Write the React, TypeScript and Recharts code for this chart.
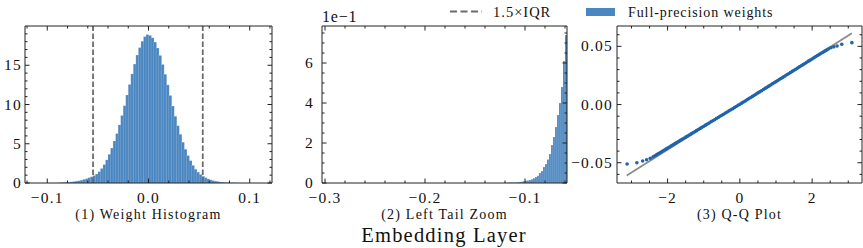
import React from 'react';
import { ComposedChart, Bar, Scatter, Line, XAxis, YAxis, ReferenceLine } from 'recharts';

const FONT = "'Liberation Serif', 'Times New Roman', serif";
const INK = '#222222';
const BAR = '#4a86c1';
const DASH = '#6b6b6b';
const DOT = '#1f63ad';
const FIT = '#8a8a8a';

// (1) weight histogram: bin centres (width 0.0025) and densities
const histBins = [
  -0.08875, -0.08625, -0.08375, -0.08125, -0.07875, -0.07625, -0.07375, -0.07125, -0.06875, -0.06625,
  -0.06375, -0.06125, -0.05875, -0.05625, -0.05375, -0.05125, -0.04875, -0.04625, -0.04375, -0.04125,
  -0.03875, -0.03625, -0.03375, -0.03125, -0.02875, -0.02625, -0.02375, -0.02125, -0.01875, -0.01625,
  -0.01375, -0.01125, -0.00875, -0.00625, -0.00375, -0.00125, 0.00125, 0.00375, 0.00625, 0.00875,
  0.01125, 0.01375, 0.01625, 0.01875, 0.02125, 0.02375, 0.02625, 0.02875, 0.03125, 0.03375,
  0.03625, 0.03875, 0.04125, 0.04375, 0.04625, 0.04875, 0.05125, 0.05375, 0.05625, 0.05875,
  0.06125, 0.06375, 0.06625, 0.06875, 0.07125, 0.07375, 0.07625, 0.07875, 0.08125, 0.08375,
  0.08625, 0.08875,
];
const histDensity = [
  0.03, 0.05, 0.07, 0.09, 0.11, 0.14, 0.19, 0.24, 0.29, 0.36,
  0.46, 0.55, 0.68, 0.8, 0.95, 1.15, 1.45, 1.85, 2.35, 2.95,
  3.65, 4.45, 5.35, 6.3, 7.4, 8.6, 9.85, 11.2, 12.55, 13.9,
  15.15, 16.3, 17.25, 18.05, 18.65, 18.9, 18.8, 18.5, 17.95, 17.2,
  16.25, 15.1, 13.85, 12.5, 11.15, 9.8, 8.5, 7.3, 6.2, 5.2,
  4.3, 3.5, 2.85, 2.25, 1.75, 1.38, 1.08, 0.86, 0.68, 0.52,
  0.4, 0.31, 0.24, 0.18, 0.13, 0.1, 0.07, 0.05, 0.04, 0.03,
  0.02, 0.01,
];
const iqrBounds = [-0.0548, 0.0536];

// (2) left tail: bin centres (width 0.002) and densities
const tailBins = [
  -0.119, -0.117, -0.115, -0.113, -0.111, -0.109, -0.107, -0.105, -0.103, -0.101,
  -0.099, -0.097, -0.095, -0.093, -0.091, -0.089, -0.087, -0.085, -0.083, -0.081,
  -0.079, -0.077, -0.075, -0.073, -0.071, -0.069, -0.067, -0.065, -0.063, -0.061,
  -0.059,
];
const tailDensity = [
  0.001, 0.001, 0.002, 0.002, 0.003, 0.003, 0.004, 0.005, 0.006, 0.009,
  0.011, 0.013, 0.015, 0.019, 0.024, 0.03, 0.036, 0.05, 0.06, 0.08,
  0.095, 0.118, 0.145, 0.19, 0.23, 0.28, 0.34, 0.4, 0.48, 0.61,
  0.74,
];

// (3) Q-Q plot: theoretical quantiles vs ordered weights
const qqTheoretical = [
  -3.12, -2.85, -2.69, -2.58, -2.48,
  -2.4, -2.35, -2.3, -2.25, -2.2, -2.15, -2.1, -2.05, -2.0, -1.95,
  -1.9, -1.85, -1.8, -1.75, -1.7, -1.65, -1.6, -1.55, -1.5, -1.45,
  -1.4, -1.35, -1.3, -1.25, -1.2, -1.15, -1.1, -1.05, -1.0, -0.95,
  -0.9, -0.85, -0.8, -0.75, -0.7, -0.65, -0.6, -0.55, -0.5, -0.45,
  -0.4, -0.35, -0.3, -0.25, -0.2, -0.15, -0.1, -0.05, 0.0, 0.05,
  0.1, 0.15, 0.2, 0.25, 0.3, 0.35, 0.4, 0.45, 0.5, 0.55,
  0.6, 0.65, 0.7, 0.75, 0.8, 0.85, 0.9, 0.95, 1.0, 1.05,
  1.1, 1.15, 1.2, 1.25, 1.3, 1.35, 1.4, 1.45, 1.5, 1.55,
  1.6, 1.65, 1.7, 1.75, 1.8, 1.85, 1.9, 1.95, 2.0, 2.05,
  2.1, 2.15, 2.2, 2.25, 2.3, 2.35, 2.4, 2.45, 2.52,
  2.6, 2.69, 2.82, 3.1,
];
const qqSample = [
  -0.0511, -0.05, -0.0485, -0.0474, -0.0462,
  -0.0449, -0.044, -0.043, -0.0421, -0.0412, -0.0402, -0.0393, -0.0383, -0.0374, -0.0365,
  -0.0355, -0.0346, -0.0336, -0.0327, -0.0318, -0.0308, -0.0299, -0.0289, -0.028, -0.0271,
  -0.0261, -0.0252, -0.0242, -0.0233, -0.0224, -0.0214, -0.0205, -0.0195, -0.0186, -0.0177,
  -0.0167, -0.0158, -0.0148, -0.0139, -0.013, -0.012, -0.0111, -0.0101, -0.0092, -0.0083,
  -0.0073, -0.0064, -0.0054, -0.0045, -0.0036, -0.0026, -0.0017, -0.0007, 0.0002, 0.0012,
  0.0022, 0.0031, 0.0041, 0.0051, 0.0061, 0.007, 0.008, 0.009, 0.01, 0.0109,
  0.0119, 0.0129, 0.0139, 0.0148, 0.0158, 0.0168, 0.0178, 0.0187, 0.0197, 0.0207,
  0.0217, 0.0226, 0.0236, 0.0246, 0.0256, 0.0265, 0.0275, 0.0285, 0.0295, 0.0304,
  0.0314, 0.0324, 0.0334, 0.0343, 0.0353, 0.0363, 0.0373, 0.0382, 0.0392, 0.0402,
  0.0412, 0.0421, 0.0431, 0.0441, 0.045, 0.0459, 0.0468, 0.0477, 0.0488,
  0.0496, 0.0503, 0.0518, 0.0532,
];
const fitX = [-3.13, 3.1];
const fitY = [-0.0609, 0.0612];

// ticks (all tick positions, majors get labels)
const h1XTicks = [-0.12, -0.1, -0.08, -0.06, -0.04, -0.02, 0, 0.02, 0.04, 0.06, 0.08, 0.1, 0.12];
const h1XMajor = [-0.1, 0, 0.1];
const h1YTicks = [0, 1, 2, 3, 4, 5, 6, 7, 8, 9, 10, 11, 12, 13, 14, 15, 16, 17, 18, 19];
const h1YMajor = [0, 5, 10, 15];
const h2XTicks = [-0.3, -0.28, -0.26, -0.24, -0.22, -0.2, -0.18, -0.16, -0.14, -0.12, -0.1, -0.08, -0.06];
const h2XMajor = [-0.3, -0.2, -0.1];
const h2YTicks = [0, 0.05, 0.1, 0.15, 0.2, 0.25, 0.3, 0.35, 0.4, 0.45, 0.5, 0.55, 0.6, 0.65, 0.7, 0.75];
const h2YMajor = [0, 0.2, 0.4, 0.6];
const qqXTicks = [-3, -2.5, -2, -1.5, -1, -0.5, 0, 0.5, 1, 1.5, 2, 2.5, 3];
const qqXMajor = [-2, 0, 2];
const qqYTicks = [-0.06, -0.05, -0.04, -0.03, -0.02, -0.01, 0, 0.01, 0.02, 0.03, 0.04, 0.05, 0.06];
const qqYMajor = [-0.05, 0, 0.05];

const histData = histBins.map((x, i) => ({ x, y: histDensity[i] }));
const tailData = tailBins.map((x, i) => ({ x, y: tailDensity[i] }));
const qqData = qqTheoretical.map((x, i) => ({ x, y: qqSample[i] }));
const fitData = fitX.map((x, i) => ({ x, y: fitY[i] }));

const minus = (s: string) => s.replace('-', '\u2212');
const isMajor = (v: number, majors: number[]) => majors.some((m) => Math.abs(m - v) < 1e-9);

type Side = 'bottom' | 'top' | 'left' | 'right';

function makeTick(side: Side, majors: number[], fmt?: (v: number) => string, gap = 4) {
  return (props: any) => {
    const { x, y, payload } = props;
    const v = payload.value;
    const major = isMajor(v, majors);
    const len = major ? 4.5 : 2.5;
    let line;
    if (side === 'bottom') line = <line x1={x} x2={x} y1={y} y2={y - len} stroke={INK} />;
    else if (side === 'top') line = <line x1={x} x2={x} y1={y} y2={y + len} stroke={INK} />;
    else if (side === 'left') line = <line x1={x} x2={x + len} y1={y} y2={y} stroke={INK} />;
    else line = <line x1={x} x2={x - len} y1={y} y2={y} stroke={INK} />;
    let label = null;
    if (fmt && major) {
      const common = { fontFamily: FONT, fontSize: 15.5, fill: '#111', letterSpacing: 1.2 };
      if (side === 'bottom')
        label = <text x={x} y={y + 20} textAnchor="middle" {...common}>{minus(fmt(v))}</text>;
      if (side === 'left')
        label = <text x={x - gap} y={y + 5} textAnchor="end" {...common}>{minus(fmt(v))}</text>;
    }
    return (
      <g>
        {line}
        {label}
      </g>
    );
  };
}

// axis boxes are 1px deep; tick coordinates sit on the plot edge
function xAxes(domain: number[], ticks: number[], majors: number[], fmt: (v: number) => string) {
  return [
    <XAxis key="xb" xAxisId="b" dataKey="x" type="number" domain={domain} allowDataOverflow ticks={ticks}
      interval={0} height={1} tickSize={0} tickMargin={0} axisLine={{ stroke: INK }} tickLine={false}
      tick={makeTick('bottom', majors, fmt)} />,
    <XAxis key="xt" xAxisId="t" orientation="top" dataKey="x" type="number" domain={domain} allowDataOverflow
      ticks={ticks} interval={0} height={1} tickSize={0} tickMargin={0} axisLine={{ stroke: INK }}
      tickLine={false} tick={makeTick('top', majors)} />,
  ];
}

function yAxes(domain: number[], ticks: number[], majors: number[], fmt: (v: number) => string, gap = 4) {
  return [
    <YAxis key="yl" yAxisId="l" type="number" domain={domain} allowDataOverflow ticks={ticks} interval={0}
      width={1} tickSize={0} tickMargin={0} axisLine={{ stroke: INK }} tickLine={false}
      tick={makeTick('left', majors, fmt, gap)} />,
    <YAxis key="yr" yAxisId="r" orientation="right" type="number" domain={domain} allowDataOverflow
      ticks={ticks} interval={0} width={1} tickSize={0} tickMargin={0} axisLine={{ stroke: INK }}
      tickLine={false} tick={makeTick('right', majors)} />,
  ];
}

const W = 863;
const H = 248;
const TOP = 26;
const BOTTOM = 183;
const layer: React.CSSProperties = { position: 'absolute', left: 0, top: 0 };
const box = (left: number, right: number) => ({
  top: TOP - 1,
  bottom: H - BOTTOM - 1,
  left: left - 1,
  right: W - right - 1,
});

export default function App() {
  return (
    <div style={{ position: 'fixed', left: 0, top: 0, width: W, height: H, background: '#fff' }}>
      <div style={layer}>
        <ComposedChart width={W} height={H} data={histData} barCategoryGap={0} barGap={0} margin={box(25, 272)}>
          {xAxes([-0.122, 0.122], h1XTicks, h1XMajor, (v) => v.toFixed(1))}
          {yAxes([0, 20], h1YTicks, h1YMajor, (v) => String(v), 3)}
          <Bar xAxisId="b" yAxisId="l" dataKey="y" fill={BAR} stroke="#ffffff" strokeOpacity={0.3}
            strokeWidth={0.5} isAnimationActive={false} />
          {iqrBounds.map((b) => (
            <ReferenceLine key={b} xAxisId="b" yAxisId="l" x={b} stroke={DASH} strokeWidth={1.8}
              strokeDasharray="5.5 2.5" />
          ))}
        </ComposedChart>
      </div>
      <div style={layer}>
        <ComposedChart width={W} height={H} data={tailData} barCategoryGap={0} barGap={0} margin={box(322, 567)}>
          {xAxes([-0.303, -0.058], h2XTicks, h2XMajor, (v) => v.toFixed(1))}
          {yAxes([0, 0.785], h2YTicks, h2YMajor, (v) => String(Math.round(v * 10)), 8)}
          <Bar xAxisId="b" yAxisId="l" dataKey="y" fill={BAR} stroke="#ffffff" strokeOpacity={0.3}
            strokeWidth={0.5} isAnimationActive={false} />
        </ComposedChart>
      </div>
      <div style={layer}>
        <ComposedChart width={W} height={H} margin={box(617, 862)}>
          {xAxes([-3.4, 3.38], qqXTicks, qqXMajor, (v) => String(v))}
          {yAxes([-0.0674, 0.0675], qqYTicks, qqYMajor, (v) => v.toFixed(2), 4)}
          <Scatter xAxisId="b" yAxisId="l" data={qqData} dataKey="y" fill={DOT} isAnimationActive={false}
            shape={(p: any) => <circle cx={p.cx} cy={p.cy} r={1.8} fill={DOT} />} />
          <Line xAxisId="b" yAxisId="l" data={fitData} dataKey="y" type="linear" stroke={FIT}
            strokeWidth={1.7} dot={false} isAnimationActive={false} />
        </ComposedChart>
      </div>
      <svg width={W} height={H} style={{ ...layer, pointerEvents: 'none' }} fontFamily={FONT}>
        <text x={322} y={21.5} fontSize={16} fill="#111" letterSpacing={0.8}>1e{'\u2212'}1</text>
        <line x1={450} x2={482} y1={11.5} y2={11.5} stroke={DASH} strokeWidth={1.8} strokeDasharray="7 3.5" />
        <text x={493} y={16.5} fontSize={14.5} fill="#111" letterSpacing={1}>1.5×IQR</text>
        <rect x={586} y={8} width={29} height={8} fill={BAR} />
        <text x={628} y={16.5} fontSize={14} fill="#111" letterSpacing={0.9}>Full-precision weights</text>
        <text x={148.5} y={219} fontSize={14} textAnchor="middle" fill="#111" letterSpacing={1.2}>(1) Weight Histogram</text>
        <text x={444.5} y={219} fontSize={14} textAnchor="middle" fill="#111" letterSpacing={1.2}>(2) Left Tail Zoom</text>
        <text x={739.5} y={219} fontSize={14} textAnchor="middle" fill="#111" letterSpacing={1.2}>(3) Q-Q Plot</text>
        <text x={444} y={241.5} fontSize={20.5} textAnchor="middle" fill="#111" letterSpacing={1.2}>Embedding Layer</text>
      </svg>
    </div>
  );
}
